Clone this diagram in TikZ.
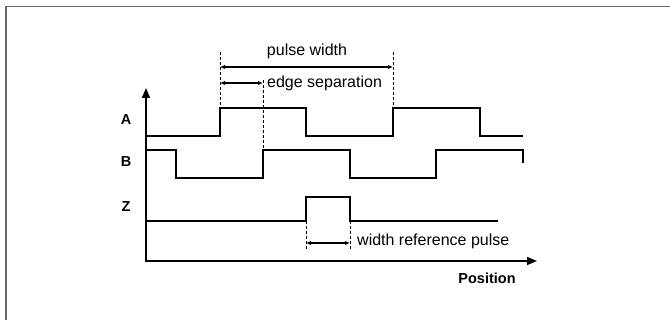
\documentclass[tikz,border=0pt]{standalone}
\usepackage{fontspec}
\setmainfont{Liberation Sans}
\usetikzlibrary{arrows.meta}

\begin{document}
\begin{tikzpicture}[x=1pt,y=-1pt,
    sig/.style={line width=1.6pt},
    axis/.style={line width=1.6pt,-{Triangle[length=10pt,width=8pt]}},
    dim/.style={line width=1.3pt,{Latex[length=5pt,width=4.5pt]}-{Latex[length=5pt,width=4.5pt]}},
    guide/.style={thin,dash pattern=on 3pt off 2pt},
    lbl/.style={font=\fontsize{16}{19}\selectfont,inner sep=0pt},
    ch/.style={font=\bfseries\fontsize{14.5}{17}\selectfont,inner sep=0pt}]
    \useasboundingbox (0,0) rectangle (670,320);
    % frame
    \draw[gray!80!black,line width=1.2pt] (6,320) -- (6,6.5) -- (670,6.5);
    % axes
    \coordinate (o) at (146,262);
    \coordinate (ytip) at (146,88);
    \coordinate (xtip) at (537,261);
    \draw[axis] (o) -- (ytip);
    \draw[axis] (146,261) -- (xtip);
    \node[ch] (pos) at (487,278) {Position};
    \node[ch] (la) at (126,120) {A};
    \node[ch] (lb) at (126,162) {B};
    \node[ch] (lz) at (126,207) {Z};
    % signals
    \draw[sig] (146,136) -- (220,136) -- (220,108) -- (306,108) -- (306,136) -- (393,136) -- (393,108) -- (480,108) -- (480,136) -- (523,136);
    \draw[sig] (146,150) -- (176,150) -- (176,178) -- (263,178) -- (263,150) -- (350,150) -- (350,178) -- (436,178) -- (436,150) -- (523,150) -- (523,163);
    \draw[sig] (146,221) -- (306,221) -- (306,197) -- (350,197) -- (350,221) -- (498,221);
    % guides
    \draw[guide] (220,52) -- (220,108);
    \draw[guide] (393,52) -- (393,108);
    \draw[guide] (263,80) -- (263,150);
    \draw[guide] (306,221) -- (306,250);
    \draw[guide] (350,221) -- (350,250);
    % dimensions
    \coordinate (pwL) at (220,67);
    \coordinate (pwR) at (393,67);
    \draw[dim] (pwL) -- (pwR);
    \node[lbl] (pw) at (307,51) {pulse width};
    \coordinate (esL) at (220,83);
    \coordinate (esR) at (263,83);
    \draw[dim] (esL) -- (esR);
    \node[lbl,anchor=west] (es) at (267,83) {edge separation};
    \coordinate (wrL) at (306,243);
    \coordinate (wrR) at (350,243);
    \draw[dim] (wrL) -- (wrR);
    \node[lbl,anchor=west] (wr) at (357,241) {width reference pulse};
\end{tikzpicture}
\end{document}
